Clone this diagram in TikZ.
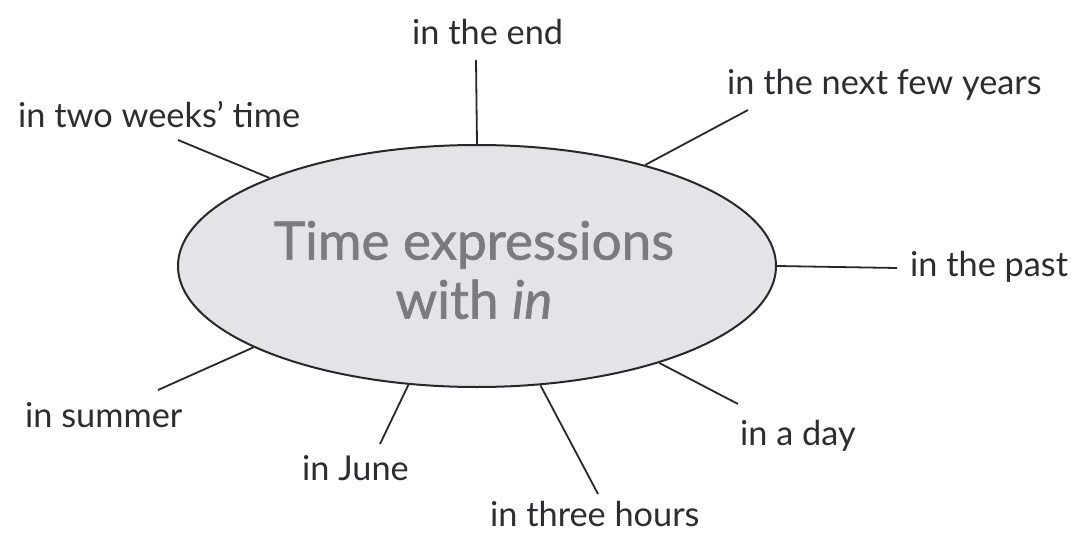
\documentclass[tikz,border=0pt]{standalone}
\usepackage{fontspec}
\setmainfont{Lato}
\newfontfamily\ttlfont[FakeBold=1.2]{Lato}
\usetikzlibrary{shapes.geometric}
\definecolor{txt}{RGB}{45,45,48}
\definecolor{ttl}{RGB}{122,122,128}
\definecolor{efill}{RGB}{228,228,232}
\definecolor{eline}{RGB}{40,40,42}
\tikzset{
  lbl/.style={anchor=base west, inner sep=0pt, text=txt, font=\fontsize{34.3}{41}\selectfont},
  conn/.style={draw=eline, line width=1.8pt},
}
\begin{document}
\begin{tikzpicture}[x=1pt,y=-1pt]
\useasboundingbox (0,0) rectangle (1077,535);
\node[ellipse, draw=eline, fill=efill, line width=2pt, minimum width=598pt, minimum height=242pt, inner sep=0pt] (c) at (477,266) {};
\node[anchor=center, text=ttl, align=center, font=\ttlfont\fontsize{53}{59}\selectfont] (title) at (474,270) {Time expressions\\with \textit{in}};
\node[lbl] (end) at (412,45) {in the end};
\node[lbl] (next) at (727,95) {in the next few years};
\node[lbl] (two) at (18,128) {in two weeks' time};
\node[lbl] (past) at (910,276) {in the past};
\node[lbl] (summer) at (25,427) {in summer};
\node[lbl] (june) at (302,480) {in June};
\node[lbl] (three) at (490,526) {in three hours};
\node[lbl] (day) at (740,445) {in a day};
\coordinate (eEnd) at (476,60);
\coordinate (eNext) at (748,110);
\coordinate (eTwo) at (178,140);
\coordinate (ePast) at (897,268);
\coordinate (eSummer) at (158,390);
\coordinate (eJune) at (380,444);
\coordinate (eThree) at (598,494);
\coordinate (eDay) at (738,404);
\draw[conn] (c.90) -- (eEnd);
\draw[conn] (c.31) -- (eNext);
\draw[conn] (c.157) -- (eTwo);
\draw[conn] (c.0) -- (ePast);
\draw[conn] (c.200.1) -- (eSummer);
\draw[conn] (c.240.8) -- (eJune);
\draw[conn] (c.298.8) -- (eThree);
\draw[conn] (c.332.2) -- (eDay);
\end{tikzpicture}
\end{document}
